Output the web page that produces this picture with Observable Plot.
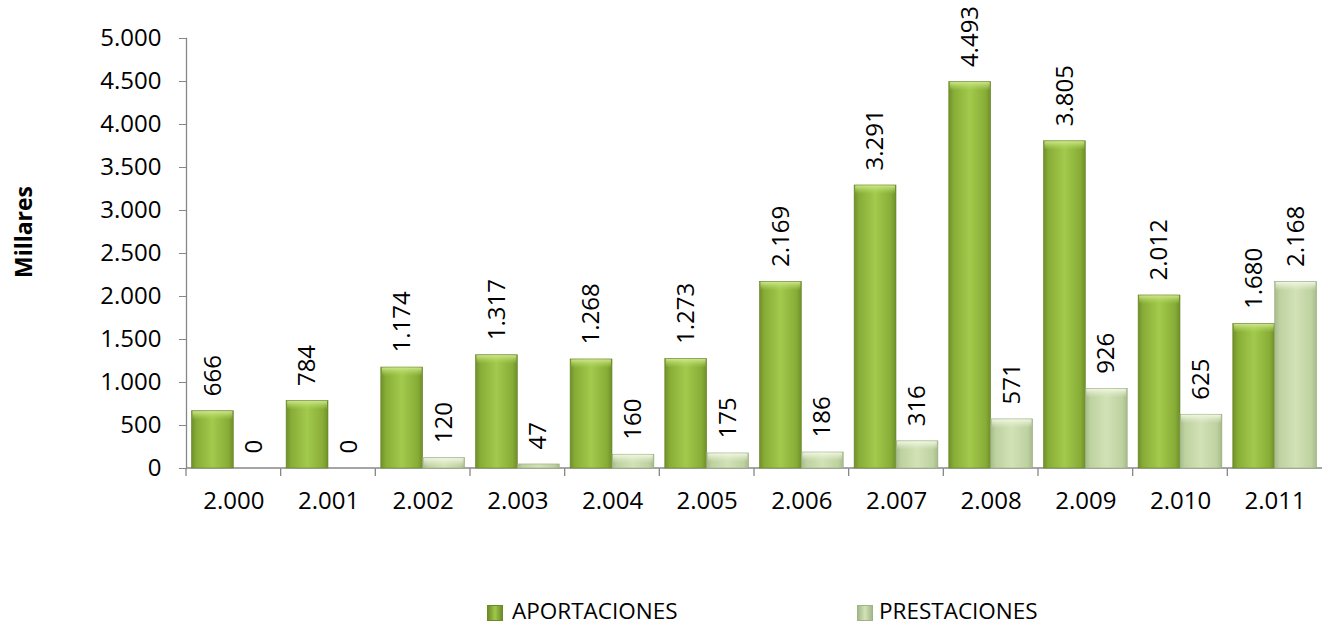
<!DOCTYPE html>
<html>
<head>
<meta charset="utf-8">
<script src="https://cdn.jsdelivr.net/npm/d3@7"></script>
<script src="https://cdn.jsdelivr.net/npm/@observablehq/plot@0.6"></script>
<style>
  body { margin: 0; background: #fff; font-family: "Open Sans", sans-serif; }
  #wrap { position: relative; width: 1322px; height: 626px; overflow: hidden; }
  #ylab { position: absolute; left: 23px; top: 232px; transform: translate(-50%, -50%) rotate(-90deg);
          font-weight: bold; font-size: 23px; white-space: nowrap; color: #000; }
  .sw { position: absolute; top: 605px; width: 16px; height: 16px; box-sizing: border-box; }
  .lt { position: absolute; top: 600px; font-size: 22.5px; line-height: 22px; white-space: nowrap; color: #000; }
</style>
</head>
<body>
<div id="wrap">
  <div id="chart"></div>
  <div id="ylab">Millares</div>
  <div class="sw" style="left:487px; background: linear-gradient(90deg,#6d8d27,#a0c84a 50%,#6d8d27); border:1px solid #6a8a25;"></div>
  <div class="lt" style="left:512px;">APORTACIONES</div>
  <div class="sw" style="left:857px; background: linear-gradient(90deg,#a5b98a,#d3e3b7 50%,#a5b98a); border:1px solid #9fb386;"></div>
  <div class="lt" style="left:879px;">PRESTACIONES</div>
</div>
<script>
const years = [2000, 2001, 2002, 2003, 2004, 2005, 2006, 2007, 2008, 2009, 2010, 2011];
const aportaciones = [666, 784, 1174, 1317, 1268, 1273, 2169, 3291, 4493, 3805, 2012, 1680];
const prestaciones = [0, 0, 120, 47, 160, 175, 186, 316, 571, 926, 625, 2168];
const seriesNames = ["APORTACIONES", "PRESTACIONES"];
const yTicks = [0, 500, 1000, 1500, 2000, 2500, 3000, 3500, 4000, 4500, 5000];

const fmt = d3.formatLocale({decimal: ",", thousands: ".", grouping: [3], currency: ["", " €"]}).format(",d");

const dataA = years.map((year, i) => ({year, series: seriesNames[0], value: aportaciones[i]}));
const dataP = years.map((year, i) => ({year, series: seriesNames[1], value: prestaciones[i]}));

const axisGray = "#878787";

// x-axis baseline and category boundary ticks, drawn in each facet from the scales
const baseline = (index, scales, values, dimensions) => {
  let x0, x1;
  if (scales.x && scales.x.range) { [x0, x1] = scales.x.range(); }
  else { x0 = dimensions.marginLeft; x1 = dimensions.width - dimensions.marginRight; }
  const y0 = scales.y(0);
  const g = d3.create("svg:g").attr("stroke", axisGray).attr("stroke-width", 1.3);
  g.append("line").attr("x1", x0).attr("x2", x1).attr("y1", y0).attr("y2", y0);
  g.append("line").attr("x1", x0).attr("x2", x0).attr("y1", y0).attr("y2", y0 + 8);
  return g.node();
};

const textOpts = {fx: "year", x: "series", y: "value", text: d => fmt(d.value),
  rotate: -90, textAnchor: "start", dy: -15, fontSize: 24, fill: "#000"};
const bevelOpts = {fx: "year", x: "series", y1: "value", y2: "value", insetBottom: -9,
  filter: d => d.value >= 100};

const chart = Plot.plot({
  width: 1322,
  height: 520,
  marginLeft: 186,
  marginRight: 0,
  marginTop: 38,
  marginBottom: 52,
  style: {fontFamily: "Open Sans", fontSize: "24px", color: "#000", background: "transparent"},
  fx: {domain: years, padding: 0, round: false, label: null},
  x: {domain: seriesNames, paddingInner: 0, paddingOuter: 0.13, round: false, axis: null},
  y: {domain: [0, 5000], label: null},
  marks: [
    Plot.axisY({ticks: yTicks, tickSize: 7, tickPadding: 18, tickFormat: fmt, stroke: axisGray, fill: "#000", label: null}),
    Plot.frame({anchor: "left", facetAnchor: "left", stroke: axisGray, strokeWidth: 1.3}),
    baseline,
    Plot.axisFx({anchor: "bottom", tickSize: 0, tickPadding: 23, tickFormat: fmt, label: null, fill: "#000"}),
    Plot.barY(dataA, {fx: "year", x: "series", y: "value", fill: "url(#gA)", stroke: "#67852a", strokeWidth: 0.6}),
    Plot.barY(dataP, {fx: "year", x: "series", y: "value", fill: "url(#gP)", stroke: "#98ab7c", strokeWidth: 0.6}),
    Plot.barY(dataA, {...bevelOpts, fill: "url(#bA)", insetLeft: 1, insetRight: 1, insetTop: 0.5}),
    Plot.barY(dataP, {...bevelOpts, fill: "url(#bP)", insetLeft: 1, insetRight: 1, insetTop: 0.5}),
    Plot.text(dataA, textOpts),
    Plot.text(dataP, textOpts)
  ]
});

document.getElementById("chart").appendChild(chart);
const svgEl = chart.tagName.toLowerCase() === "svg" ? chart : chart.querySelector("svg");
const defs = d3.select(svgEl).insert("defs", ":first-child");
function grad(id, stops, vertical) {
  const lg = defs.append("linearGradient").attr("id", id)
    .attr("x1", "0").attr("x2", vertical ? "0" : "1").attr("y1", "0").attr("y2", vertical ? "1" : "0");
  stops.forEach(([o, c, op]) => lg.append("stop").attr("offset", o).attr("stop-color", c).attr("stop-opacity", op ?? 1));
}
grad("gA", [[0, "#6f8f28"], [0.12, "#88ad37"], [0.5, "#a2ca4c"], [0.88, "#88ad37"], [1, "#6f8f28"]]);
grad("gP", [[0, "#a6ba8b"], [0.12, "#bed1a0"], [0.5, "#d2e2b6"], [0.88, "#bed1a0"], [1, "#a6ba8b"]]);
grad("bA", [[0, "#cfe88e", 0.95], [1, "#b2d85e", 0]], true);
grad("bP", [[0, "#f2f8e6", 0.95], [1, "#e3eed0", 0]], true);
</script>
</body>
</html>
